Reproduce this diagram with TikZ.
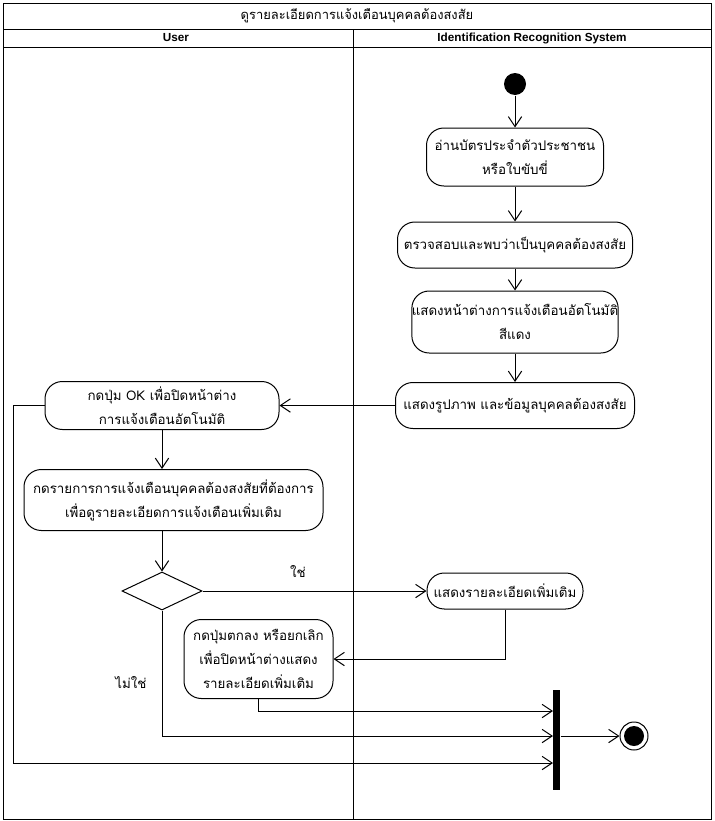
\documentclass[tikz,border=0pt]{standalone}
\usepackage{fontspec}
\setmainfont{Liberation Sans}
\newfontfamily\thaifont[Script=Thai]{Loma}
\usetikzlibrary{arrows.meta,shapes.geometric}

\tikzset{every picture/.style={line width=0.75pt}}
\tikzset{
  arr/.style={-{Straight Barb[length=7.5pt,width=10pt,line width=0.75pt]}},
  act/.style 2 args={draw, rounded corners=13pt, align=center, inner sep=0pt,
    minimum width=#1*0.75pt, minimum height=#2*0.75pt,
    font=\thaifont\fontsize{10}{18}\selectfont},
  lane/.style={font=\bfseries\fontsize{8.8}{10}\selectfont},
  thaitext/.style={font=\thaifont\fontsize{10}{12}\selectfont}
}

\begin{document}
\begin{tikzpicture}[x=0.75pt,y=0.75pt,yscale=-1,xscale=1]
	\useasboundingbox (0,0) rectangle (714,821);

	%Shape: Pool frame
	\draw (3,3) rectangle (711,819);
	\draw (3,29) -- (711,29);
	\draw (3,47) -- (711,47);
	\draw (353,29) -- (353,819);

	% Text Node
	\node (title) [thaitext, font=\thaifont\fontsize{9.7}{12}\selectfont] at (357,16) {ดูรายละเอียดการแจ้งเตือนบุคคลต้องสงสัย};
	% Text Node
	\node (lanea) [lane] at (176,38) {User};
	% Text Node
	\node (laneb) [lane] at (532,38) {Identification Recognition System};

	%Shape: Start
	\node (start) [circle, fill, inner sep=0pt, minimum size=22*0.75pt] at (515,84) {};
	%Shape: Actions of the system
	\node (a1) [act={177}{58}] at (515,157) {อ่านบัตรประจำตัวประชาชน\\หรือใบขับขี่};
	\node (a2) [act={235}{46}] at (515,245) {ตรวจสอบและพบว่าเป็นบุคคลต้องสงสัย};
	\node (a3) [act={202}{62}] at (515,322) {แสดงหน้าต่างการแจ้งเตือนอัตโนมัติ\\สีแดง};
	\node (a4) [act={239}{46}] at (515,405.5) {แสดงรูปภาพ และข้อมูลบุคคลต้องสงสัย};
	\node (a5) [act={156}{36}] at (505,591) {แสดงรายละเอียดเพิ่มเติม};

	%Shape: Actions of the user
	\node (u1) [act={234}{48}] at (162,405.5) {กดปุ่ม OK เพื่อปิดหน้าต่าง\\การแจ้งเตือนอัตโนมัติ};
	\node (u2) [act={299}{61}] at (173.5,500) {กดรายการการแจ้งเตือนบุคคลต้องสงสัยที่ต้องการ\\เพื่อดูรายละเอียดการแจ้งเตือนเพิ่มเติม};
	\node (u3) [act={149}{79}] at (258.5,659) {กดปุ่มตกลง หรือยกเลิก\\เพื่อปิดหน้าต่างแสดง\\รายละเอียดเพิ่มเติม};

	%Shape: Decision
	\node (dec) [diamond, draw, inner sep=0pt, minimum width=80*0.75pt, minimum height=38*0.75pt] at (162,591) {};

	%Shape: Join bar
	\node (join) [fill, inner sep=0pt, minimum width=7*0.75pt, minimum height=100*0.75pt] at (556.5,740) {};
	\coordinate (j1) at (553,711);
	\coordinate (j2) at (553,736);
	\coordinate (j3) at (553,763);
	\coordinate (c1) at (13,763);

	%Shape: End
	\node (end) [circle, draw, inner sep=0pt, minimum size=28*0.75pt] at (634,736) {};
	\fill (end.center) circle (7.5pt);

	%Straight Lines
	\draw [arr] (start) -- (a1);
	\draw [arr] (a1) -- (a2);
	\draw [arr] (a2) -- (a3);
	\draw [arr] (a3) -- (a4);
	\draw [arr] (a4) -- (u1);
	\draw [arr] (u1) -- (u1 |- u2.north);
	\draw [arr] (u2.south -| dec) -- (dec.north);
	\draw [arr] (dec) -- (a5);
	\draw [arr] (a5.south) |- (u3.east);
	\draw [arr] (u3.south) |- (j1);
	\draw [arr] (dec.south) |- (j2);
	\draw [arr] (u1.west) -| (c1) -- (j3);
	\draw [arr] (join.east |- end) -- (end);

	% Text Node
	\node (yes) [thaitext] at (298,572) {ใช่};
	% Text Node
	\node (no) [thaitext] at (131,683) {ไม่ใช่};

\end{tikzpicture}
\end{document}
